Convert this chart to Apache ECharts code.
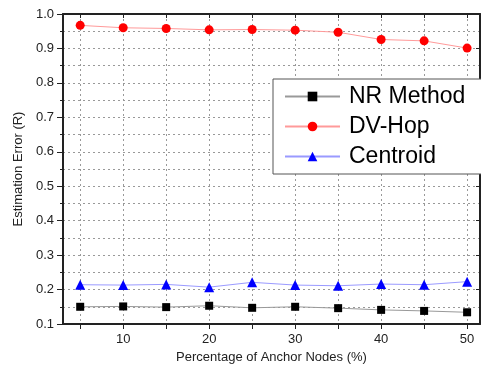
<!DOCTYPE html>
<html>
<head>
<meta charset="utf-8">
<script src="https://cdn.jsdelivr.net/npm/echarts@6/dist/echarts.min.js"></script>
<style>
html, body { margin: 0; padding: 0; background: #fff; }
#demo { width: 481px; height: 372px; }
</style>
</head>
<body>
<div id="demo"></div>
<script>
// 横轴：锚节点比例
var anchorPercent = [5, 10, 15, 20, 25, 30, 35, 40, 45, 50];
var nrMethod = [0.150, 0.151, 0.149, 0.153, 0.147, 0.150, 0.146, 0.141, 0.138, 0.134];
var dvHop = [0.967, 0.960, 0.958, 0.954, 0.955, 0.953, 0.947, 0.926, 0.922, 0.901];
var centroid = [0.214, 0.213, 0.215, 0.207, 0.221, 0.213, 0.211, 0.216, 0.214, 0.223];
var xTickValues = [5, 10, 15, 20, 25, 30, 35, 40, 45, 50];
var xLabelValues = [10, 20, 30, 40, 50];

function pairs(ys) {
    return anchorPercent.map(function (x, i) { return [x, ys[i]]; });
}

var demo = echarts.init(document.getElementById('demo'));

var fontFamily = 'Liberation Sans, Arial, sans-serif';
var dotted = { type: [2, 3], color: '#999', width: 1 };

var option = {
    animation: false,
    backgroundColor: '#fff',
    textStyle: { fontFamily: fontFamily },
    grid: { left: 63, top: 14, right: 1, bottom: 48 },
    legend: {
        orient: 'vertical',
        left: 273,
        top: 79,
        padding: [6, 30, 6, 11],
        itemGap: 7,
        itemWidth: 55,
        itemHeight: 12,
        borderColor: '#555',
        borderWidth: 1,
        backgroundColor: '#fff',
        textStyle: { fontSize: 23, color: '#000', fontFamily: fontFamily, padding: [0, 0, 0, 4] },
        data: ['NR Method', 'DV-Hop', 'Centroid']
    },
    xAxis: [
        {
            type: 'value',
            min: 3,
            max: 51.5,
            name: 'Percentage of Anchor Nodes (%)',
            nameLocation: 'middle',
            nameGap: 27,
            nameTextStyle: { fontSize: 13, color: '#222' },
            axisLine: { lineStyle: { color: '#222', width: 2 } },
            axisTick: { customValues: xTickValues, length: 5, lineStyle: { color: '#222' } },
            axisLabel: { customValues: xLabelValues, fontSize: 13, color: '#222', margin: 9 },
            splitLine: { show: true, lineStyle: dotted }
        },
        {
            type: 'value',
            position: 'top',
            min: 3,
            max: 51.5,
            axisLine: { show: true, lineStyle: { color: '#222', width: 2 } },
            axisTick: { customValues: xTickValues, inside: true, length: 4, lineStyle: { color: '#222' } },
            axisLabel: { show: false },
            splitLine: { show: false }
        }
    ],
    yAxis: [
        {
            type: 'value',
            min: 0.1,
            max: 1.0,
            interval: 0.1,
            name: 'Estimation Error (R)',
            nameLocation: 'middle',
            nameGap: 36,
            nameTextStyle: { fontSize: 13, color: '#222' },
            axisLine: { show: true, lineStyle: { color: '#222', width: 2 } },
            axisTick: { show: true, length: 6, lineStyle: { color: '#222' } },
            minorTick: { show: true, splitNumber: 2, length: 3, lineStyle: { color: '#222' } },
            axisLabel: {
                fontSize: 13, color: '#222', margin: 9,
                formatter: function (v) { return v.toFixed(1); }
            },
            splitLine: { show: true, lineStyle: dotted },
            minorSplitLine: { show: true, lineStyle: dotted }
        },
        {
            type: 'value',
            position: 'right',
            min: 0.1,
            max: 1.0,
            interval: 0.1,
            axisLine: { show: true, lineStyle: { color: '#222', width: 2 } },
            axisTick: { show: true, inside: true, length: 4, lineStyle: { color: '#222' } },
            axisLabel: { show: false },
            splitLine: { show: false }
        }
    ],
    series: [
        {
            name: 'NR Method',
            type: 'line',
            data: pairs(nrMethod),
            symbol: 'rect',
            symbolSize: 8,
            itemStyle: { color: '#000' },
            lineStyle: { color: '#999', width: 1 }
        },
        {
            name: 'DV-Hop',
            type: 'line',
            data: pairs(dvHop),
            symbol: 'circle',
            symbolSize: 9,
            itemStyle: { color: '#ff0000' },
            lineStyle: { color: '#ff9a9a', width: 1 }
        },
        {
            name: 'Centroid',
            type: 'line',
            data: pairs(centroid),
            symbol: 'triangle',
            symbolSize: 10,
            itemStyle: { color: '#0000ff' },
            lineStyle: { color: '#9a9aff', width: 1 }
        }
    ]
};

demo.setOption(option, true);
</script>
</body>
</html>
